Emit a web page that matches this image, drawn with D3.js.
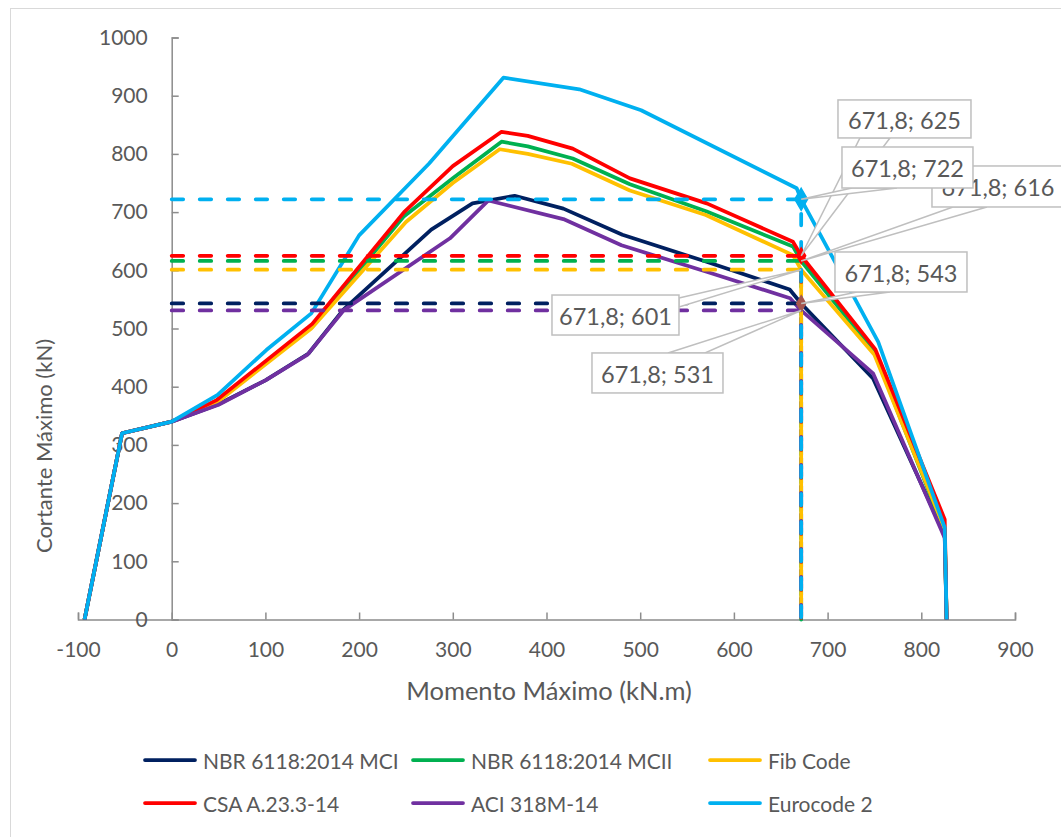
<!DOCTYPE html>
<html>
<head>
<meta charset="utf-8">
<script src="https://cdn.jsdelivr.net/npm/d3@7"></script>
<style>
  body { margin: 0; background: #fff; }
  svg text { font-family: Lato, "Open Sans", sans-serif; fill: #595959; }
</style>
</head>
<body>
<svg id="chart" width="1061" height="837"></svg>
<script>
// Curvas momento x cortante (kN.m, kN) para cada norma
const seriesNames = ["NBR 6118:2014 MCI", "NBR 6118:2014 MCII", "Fib Code", "CSA A.23.3-14", "ACI 318M-14", "Eurocode 2"];

const nbrMCI = [[-93,0],[-53,320],[0,340],[50,370],[100,411],[146,457],[183,532],[277,670],[321,715],[366,728],[418,706],[481,661],[570,615],[659.5,567],[671.8,543],[748.5,414],[825,145],[827,0]];
const nbrMCII = [[-93,0],[-53,320],[0,340],[50,377],[150,503],[248,693],[300,758],[352,821],[380,813],[428,792],[489,748],[571,701],[663,641],[671.8,616],[750,460],[825,150],[827,0]];
const fibCode = [[-93,0],[-53,320],[0,340],[50,375],[149,500],[250,683],[300,750],[350,808],[380,800],[427,783],[489,737],[570,695],[663,626],[671.8,601],[750,455],[825,155],[827,0]];
const csa = [[-93,0],[-53,320],[0,340],[48,377],[150,508],[248,700],[300,779],[352,838],[380,831],[428,809],[489,758],[571,715],[663,649],[671.8,625],[751,464],[825,172],[827,0]];
const aci = [[-93,0],[-53,320],[0,340],[50,369],[100,411],[145,455],[184,532],[297,655],[338,720],[418,688],[480,643],[570,598],[660,552],[671.8,531],[748.5,423],[825,140],[827,0]];
const eurocode = [[-93,0],[-53,320],[0,340],[49,386],[101,463],[149,526],[200,660],[275,784],[354,931],[435,911],[501,875],[667,741],[671.8,722],[754,477],[825,158],[827,0]];

// Ponto de projeto: momento e cortante de cada norma
const designMoment = 671.8;
const designShear = [543, 616, 601, 625, 531, 722];

const xTicks = [-100, 0, 100, 200, 300, 400, 500, 600, 700, 800, 900];
const yTicks = [0, 100, 200, 300, 400, 500, 600, 700, 800, 900, 1000];

const seriesData = [nbrMCI, nbrMCII, fibCode, csa, aci, eurocode];
const colors = ["#002060", "#00B050", "#FFC000", "#FF0000", "#7030A0", "#00B0F0"];
// marcadores visíveis no ponto de projeto (null = sem marcador)
const markerStyle = [
  { color: "#A5564F", size: 70 },
  null,
  null,
  { color: "#FF0000", size: 70 },
  null,
  { color: "#00B0F0", size: 140 }
];

const svg = d3.select("#chart");

// Borda da área do gráfico
svg.append("rect")
  .attr("x", 10.5).attr("y", 8.5)
  .attr("width", 1060).attr("height", 840)
  .attr("fill", "#fff").attr("stroke", "#D9D9D9");

const x = d3.scaleLinear().domain([-100, 900]).range([78, 1015]);
const y = d3.scaleLinear().domain([0, 1000]).range([619.5, 37.5]);

const axisColor = "#8C8C8C";
const tickFmt = d => String(d);

// Eixo X (marcas para dentro)
const gx = svg.append("g").attr("transform", `translate(0,${y(0)})`)
  .call(d3.axisBottom(x).tickValues(xTicks).tickSize(-7).tickPadding(22).tickFormat(tickFmt));
gx.select(".domain").attr("stroke", axisColor).attr("stroke-width", 1.5);
gx.selectAll(".tick line").attr("stroke", axisColor).attr("stroke-width", 1.5);
gx.selectAll(".tick text").attr("font-size", 21).attr("fill", "#595959")
  .attr("font-family", "Lato, sans-serif").attr("dy", "0.32em").attr("y", 31);

// Eixo Y
const gy = svg.append("g").attr("transform", `translate(${x(0)},0)`)
  .call(d3.axisLeft(y).tickValues(yTicks).tickSize(-7).tickPadding(24).tickFormat(tickFmt));
gy.select(".domain").attr("stroke", axisColor).attr("stroke-width", 1.5);
gy.selectAll(".tick line").attr("stroke", axisColor).attr("stroke-width", 1.5);
gy.selectAll(".tick text").attr("font-size", 21).attr("fill", "#595959")
  .attr("font-family", "Lato, sans-serif");

// Títulos dos eixos
svg.append("text")
  .attr("x", 549).attr("y", 690)
  .attr("text-anchor", "middle").attr("dominant-baseline", "central")
  .attr("font-size", 25.5).text("Momento Máximo (kN.m)");

svg.append("text")
  .attr("transform", "translate(43,446) rotate(-90)")
  .attr("text-anchor", "middle").attr("dominant-baseline", "central")
  .attr("font-size", 22).text("Cortante Máximo (kN)");

// Curvas
const line = d3.line().x(d => x(d[0])).y(d => y(d[1]));
svg.append("g").selectAll("path").data(seriesData).join("path")
  .attr("d", line)
  .attr("fill", "none")
  .attr("stroke", (d, i) => colors[i])
  .attr("stroke-width", 3.75)
  .attr("stroke-linejoin", "round");

// Linhas de chamada tracejadas até o ponto de projeto
svg.append("g").selectAll("path").data(designShear).join("path")
  .attr("d", v => line([[0, v], [designMoment, v], [designMoment, 0]]))
  .attr("fill", "none")
  .attr("stroke", (d, i) => colors[i])
  .attr("stroke-width", 3.75)
  .attr("stroke-linecap", "round")
  .attr("stroke-dasharray", "11.5 16.5");

// Marcadores no ponto de projeto
const mk = svg.append("g");
designShear.forEach((v, i) => {
  const m = markerStyle[i];
  if (!m) return;
  mk.append("path")
    .attr("d", d3.symbol().type(d3.symbolDiamond).size(m.size)())
    .attr("transform", `translate(${x(designMoment)},${y(v)})`)
    .attr("fill", m.color).attr("stroke", m.color).attr("stroke-width", 1.5);
});

// Rótulos de dados (caixa + ponteiro)
const ptBR = d3.formatLocale({ decimal: ",", thousands: ".", grouping: [3], currency: ["", ""] });
const fmtM = ptBR.format(".1f");

// posição de cada caixa relativa ao ponto: dx, dy, largura, altura, lado do ponteiro e base
const callouts = [
  { s: 3, dx: 36.8,   dy: -155.8, w: 133, h: 38, side: "bottom", a: 22, b: 52, tx: 66.5 },
  { s: 1, dx: 130.8,  dy: -95,    w: 140, h: 41, side: "bottom", a: 21, b: 55, tx: 66 },
  { s: 5, dx: 40.8,   dy: -52.3,  w: 131, h: 41, side: "bottom", a: 10, b: 55, tx: 65.5 },
  { s: 0, dx: 33.8,   dy: -51.5,  w: 132, h: 40, side: "bottom", a: 22, b: 55, tx: 66 },
  { s: 2, dx: -249.2, dy: 25.3,   w: 127, h: 40, side: "right",  a: 3,  b: 12, tx: 63.5 },
  { s: 4, dx: -209.2, dy: 42.5,   w: 131, h: 40, side: "top",    a: 76, b: 113, tx: 65.5 }
];

const gl = svg.append("g");
callouts.forEach(c => {
  const px = x(designMoment), py = y(designShear[c.s]);
  const bx = px + c.dx, by = py + c.dy;
  let p1, p2;
  if (c.side === "bottom") { p1 = [bx + c.a, by + c.h]; p2 = [bx + c.b, by + c.h]; }
  else if (c.side === "top") { p1 = [bx + c.a, by]; p2 = [bx + c.b, by]; }
  else { p1 = [bx + c.w, by + c.a]; p2 = [bx + c.w, by + c.b]; }
  const g = gl.append("g");
  g.append("path")
    .attr("d", `M${p1[0]},${p1[1]}L${px},${py}L${p2[0]},${p2[1]}Z`)
    .attr("fill", "#fff").attr("stroke", "#BFBFBF").attr("stroke-width", 1.5)
    .attr("stroke-linejoin", "miter");
  g.append("rect")
    .attr("x", bx).attr("y", by).attr("width", c.w).attr("height", c.h)
    .attr("fill", "#fff").attr("stroke", "#BFBFBF").attr("stroke-width", 1.5);
  g.append("text")
    .attr("x", bx + c.tx)
    .attr("y", by + c.h / 2 + 1)
    .attr("text-anchor", "middle").attr("dominant-baseline", "central")
    .attr("font-size", 23.5)
    .text(`${fmtM(designMoment)}; ${designShear[c.s]}`);
});

// Legenda
const legend = svg.append("g");
const colX = [145, 413, 710], rowY = [760, 803];
seriesNames.forEach((name, i) => {
  const lx = colX[i % 3], ly = rowY[Math.floor(i / 3)];
  legend.append("line")
    .attr("x1", lx).attr("x2", lx + 50).attr("y1", ly).attr("y2", ly)
    .attr("stroke", colors[i]).attr("stroke-width", 3.75).attr("stroke-linecap", "round");
  legend.append("text")
    .attr("x", lx + 58).attr("y", ly).attr("dominant-baseline", "central")
    .attr("font-size", 21).text(name);
});
</script>
</body>
</html>
